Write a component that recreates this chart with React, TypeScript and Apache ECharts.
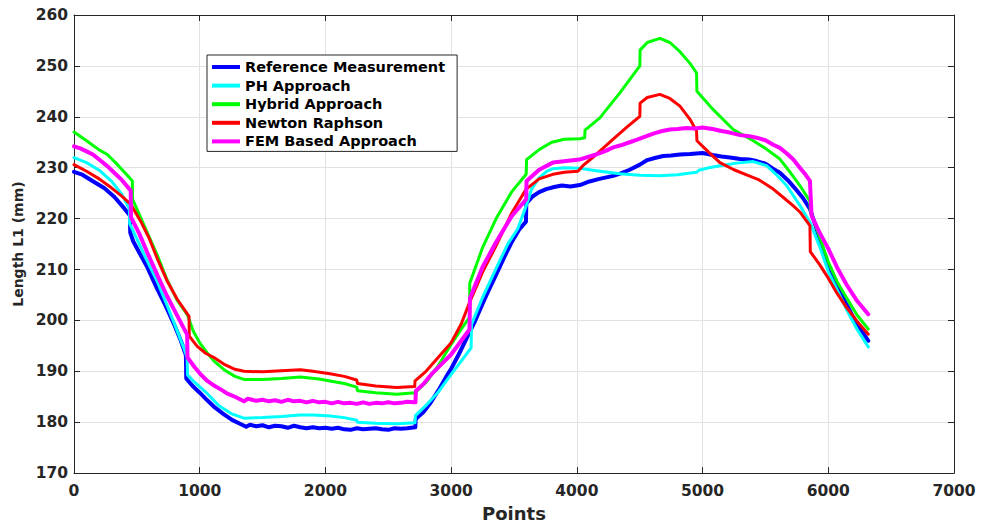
import React, { useEffect, useRef } from "react";
import * as echarts from "echarts";

const seriesNames = [
  "Reference Measurement",
  "PH Approach",
  "Hybrid Approach",
  "Newton Raphson",
  "FEM Based Approach",
];

const xTicks = [0, 1000, 2000, 3000, 4000, 5000, 6000, 7000];
const yTicks = [170, 180, 190, 200, 210, 220, 230, 240, 250, 260];

const referenceData: number[][] = [
  [0, 229.2], [60, 228.7], [160, 227.2], [240, 226.0], [320, 224.3], [400, 222.0], [445, 220.6], [447, 217.3],
  [470, 215.6], [520, 213.3], [580, 210.6], [660, 206.3], [730, 202.8], [800, 199.0], [850, 196.0], [890, 193.2],
  [893, 188.6], [940, 187.2], [1000, 185.8], [1060, 184.3], [1120, 182.9], [1190, 181.6], [1260, 180.4], [1320, 179.7],
  [1370, 179.1], [1400, 179.5], [1450, 179.2], [1500, 179.4], [1550, 179.0], [1600, 179.3], [1650, 179.2], [1700, 178.9],
  [1750, 179.3], [1800, 179.0], [1850, 178.8], [1900, 179.0], [1950, 178.8], [2000, 178.9], [2050, 178.7], [2100, 178.9],
  [2150, 178.6], [2200, 178.5], [2250, 178.8], [2300, 178.6], [2350, 178.7], [2400, 178.8], [2450, 178.6], [2500, 178.5],
  [2550, 178.8], [2600, 178.7], [2650, 178.8], [2715, 179.0], [2718, 180.6], [2780, 182.0], [2830, 183.6], [2900, 186.3],
  [2960, 188.9], [3000, 190.5], [3060, 193.3], [3120, 196.3], [3185, 199.6], [3250, 203.3], [3300, 206.0], [3358, 209.0],
  [3420, 212.3], [3480, 215.3], [3540, 217.8], [3595, 219.4], [3598, 223.0], [3650, 224.4], [3700, 225.2], [3756, 225.8],
  [3820, 226.2], [3880, 226.5], [3950, 226.3], [4024, 226.6], [4100, 227.3], [4180, 227.8], [4289, 228.4], [4350, 228.9],
  [4420, 229.6], [4501, 230.6], [4560, 231.5], [4620, 231.9], [4687, 232.3], [4750, 232.4], [4820, 232.6], [4900, 232.7],
  [5000, 232.9], [5080, 232.5], [5150, 232.2], [5217, 232.0], [5300, 231.7], [5370, 231.6], [5430, 231.3], [5500, 230.8],
  [5560, 229.8], [5615, 229.0], [5680, 227.5], [5740, 225.8], [5800, 224.0], [5854, 221.9], [5900, 218.5], [5950, 214.5],
  [6000, 210.2], [6050, 207.5], [6100, 205.2], [6146, 203.1], [6200, 200.6], [6260, 198.2], [6318, 196.0],
];

const phData: number[][] = [
  [0, 232.0], [100, 231.0], [200, 229.5], [300, 227.3], [380, 224.8], [440, 221.9], [443, 219.0], [500, 216.0],
  [580, 211.8], [663, 207.6], [740, 203.0], [820, 198.0], [870, 194.8], [900, 192.7], [903, 189.3], [960, 187.8],
  [1061, 185.6], [1150, 183.3], [1250, 181.7], [1352, 180.8], [1500, 180.9], [1650, 181.1], [1800, 181.4], [1900, 181.4],
  [2036, 181.2], [2150, 180.9], [2249, 180.4], [2255, 180.0], [2400, 179.8], [2567, 179.7], [2713, 179.9], [2716, 181.3],
  [2800, 183.3], [2900, 186.0], [3000, 189.4], [3080, 192.0], [3159, 194.6], [3162, 199.2], [3250, 204.5], [3358, 210.2],
  [3450, 215.0], [3530, 218.0], [3597, 222.5], [3640, 225.8], [3700, 228.0], [3760, 229.3], [3809, 229.8], [3900, 230.0],
  [4020, 229.9], [4154, 229.4], [4342, 228.8], [4500, 228.5], [4660, 228.4], [4800, 228.6], [4952, 229.1], [4970, 229.5],
  [5050, 230.0], [5138, 230.4], [5270, 230.9], [5403, 231.2], [5509, 230.4], [5580, 228.8], [5668, 226.5], [5774, 222.6],
  [5854, 219.3], [5930, 214.6], [6000, 209.6], [6080, 205.5], [6146, 202.1], [6230, 198.2], [6318, 194.8],
];

const hybridData: number[][] = [
  [0, 237.0], [100, 235.3], [200, 233.5], [265, 232.6], [350, 230.5], [420, 228.6], [464, 227.4], [466, 223.8],
  [520, 220.8], [580, 217.4], [663, 212.8], [740, 208.0], [820, 204.0], [902, 201.1], [950, 197.8], [1000, 195.6],
  [1060, 193.6], [1114, 192.0], [1200, 190.2], [1280, 189.0], [1352, 188.4], [1500, 188.4], [1650, 188.6], [1800, 188.9],
  [1950, 188.5], [2036, 188.1], [2150, 187.6], [2249, 186.9], [2255, 186.2], [2400, 185.8], [2567, 185.5], [2713, 185.8],
  [2800, 187.8], [2900, 191.2], [3000, 195.3], [3080, 198.3], [3146, 200.6], [3148, 207.3], [3250, 214.3], [3358, 220.0],
  [3480, 225.2], [3597, 228.7], [3600, 231.6], [3703, 233.6], [3800, 235.0], [3900, 235.6], [4024, 235.7], [4062, 235.9],
  [4065, 237.4], [4183, 239.8], [4342, 244.7], [4501, 250.0], [4503, 253.1], [4560, 254.6], [4660, 255.4], [4740, 254.6],
  [4820, 252.8], [4900, 250.5], [4952, 248.6], [4955, 245.0], [5085, 241.4], [5244, 237.5], [5403, 235.3], [5500, 233.8],
  [5615, 231.7], [5700, 229.0], [5774, 226.5], [5854, 223.4], [5857, 221.6], [5930, 216.5], [6000, 211.5], [6070, 207.6],
  [6146, 204.4], [6230, 201.0], [6318, 198.3],
];

const newtonData: number[][] = [
  [0, 230.6], [100, 229.3], [200, 227.8], [300, 226.0], [380, 224.4], [451, 222.8], [530, 219.5], [600, 216.0],
  [663, 212.1], [740, 207.8], [820, 204.2], [915, 200.8], [917, 196.9], [980, 194.9], [1050, 193.5], [1114, 192.7],
  [1200, 191.3], [1280, 190.4], [1352, 190.0], [1500, 189.9], [1650, 190.1], [1800, 190.3], [1900, 190.0], [2036, 189.5],
  [2150, 189.0], [2249, 188.3], [2255, 187.6], [2400, 187.1], [2567, 186.8], [2710, 187.0], [2713, 188.1], [2800, 190.0],
  [2900, 192.8], [3000, 195.6], [3080, 199.3], [3146, 203.5], [3250, 209.5], [3358, 214.7], [3480, 221.0], [3597, 225.8],
  [3700, 227.8], [3809, 228.7], [3900, 229.1], [4008, 229.3], [4048, 230.4], [4150, 232.5], [4289, 235.6], [4400, 238.0],
  [4501, 240.1], [4503, 242.7], [4560, 243.8], [4660, 244.4], [4740, 243.6], [4820, 242.1], [4900, 239.5], [4952, 237.2],
  [4955, 235.3], [5050, 233.0], [5138, 231.0], [5250, 229.6], [5350, 228.6], [5450, 227.6], [5562, 225.8], [5650, 224.0],
  [5722, 222.5], [5774, 221.3], [5854, 218.6], [5857, 213.5], [5930, 211.0], [6000, 208.3], [6070, 205.3], [6146, 202.5],
  [6230, 199.8], [6318, 197.3],
];

const femData: number[][] = [
  [0, 234.2], [50, 233.8], [100, 233.2], [150, 232.6], [200, 231.6], [265, 230.3], [320, 229.0], [380, 227.6],
  [451, 225.5], [453, 220.3], [520, 217.0], [580, 213.5], [663, 208.9], [740, 204.8], [820, 201.0], [900, 197.2],
  [903, 192.7], [960, 190.8], [1000, 189.6], [1061, 188.1], [1120, 187.1], [1170, 186.4], [1220, 185.6], [1280, 185.0],
  [1352, 184.1], [1380, 184.6], [1400, 184.5], [1450, 184.2], [1500, 184.4], [1550, 184.1], [1600, 184.3], [1650, 184.0],
  [1700, 184.4], [1750, 184.1], [1800, 184.2], [1850, 183.9], [1900, 184.2], [1950, 183.9], [2000, 184.0], [2050, 183.7],
  [2100, 184.0], [2150, 183.7], [2200, 183.8], [2250, 183.6], [2300, 183.9], [2350, 183.6], [2400, 183.8], [2450, 183.7],
  [2500, 183.9], [2550, 183.7], [2600, 183.8], [2650, 184.0], [2700, 183.9], [2716, 183.9], [2720, 186.2], [2780, 187.5],
  [2850, 189.6], [2920, 191.3], [3000, 193.3], [3080, 196.0], [3146, 198.2], [3150, 204.4], [3250, 210.5], [3358, 215.4],
  [3480, 220.4], [3597, 223.8], [3600, 227.4], [3700, 229.6], [3809, 231.0], [3880, 231.2], [3950, 231.4], [4020, 231.6],
  [4100, 232.2], [4154, 232.6], [4220, 233.2], [4289, 234.0], [4350, 234.4], [4420, 235.0], [4480, 235.5], [4554, 236.2],
  [4620, 236.8], [4680, 237.2], [4740, 237.5], [4800, 237.6], [4870, 237.8], [4940, 237.7], [5000, 237.9], [5080, 237.6],
  [5150, 237.2], [5217, 236.9], [5300, 236.4], [5370, 236.2], [5430, 235.9], [5500, 235.4], [5562, 234.5], [5615, 233.9],
  [5670, 232.8], [5722, 231.6], [5774, 230.0], [5820, 228.6], [5854, 227.4], [5867, 220.6], [5930, 217.3], [6000, 214.1],
  [6070, 210.4], [6146, 207.0], [6230, 203.8], [6318, 201.2],
];

const seriesData = [referenceData, phData, hybridData, newtonData, femData];
const seriesColors = ["#0000ff", "#00ffff", "#00ff00", "#ff0000", "#ff00ff"];
const seriesWidths = [4, 3, 3, 3, 4];

const FONT = "DejaVu Sans";
const AXIS_COLOR = "#262626";

export default function App() {
  const ref = useRef<HTMLDivElement>(null);

  useEffect(() => {
    document.body.style.margin = "0";
    document.body.style.overflow = "hidden";
    if (!ref.current) return;
    const chart = echarts.init(ref.current, undefined, { renderer: "svg" });
    const xMin = xTicks[0];
    const xMax = xTicks[xTicks.length - 1];
    const yMin = yTicks[0];
    const yMax = yTicks[yTicks.length - 1];
    const axisCommon = {
      type: "value" as const,
      axisLine: { show: true, onZero: false, lineStyle: { color: AXIS_COLOR, width: 1 } },
      axisTick: { show: true, inside: true, length: 6, lineStyle: { color: AXIS_COLOR } },
    };
    const plainNumber = (v: number) => String(v);
    chart.setOption({
      animation: false,
      backgroundColor: "#ffffff",
      grid: { left: 74, right: 27, top: 15, bottom: 50, containLabel: false },
      legend: {
        orient: "vertical",
        left: 207,
        top: 55,
        icon: "rect",
        itemWidth: 28,
        itemHeight: 4,
        itemGap: 3.6,
        padding: [4.5, 12, 2.5, 5],
        borderColor: AXIS_COLOR,
        borderWidth: 1,
        backgroundColor: "#ffffff",
        data: seriesNames,
        textStyle: {
          fontFamily: FONT,
          fontWeight: "bold",
          fontSize: 14.5,
          lineHeight: 14,
          color: "#000000",
        },
      },
      xAxis: [
        {
          ...axisCommon,
          min: xMin,
          max: xMax,
          interval: 1000,
          position: "bottom",
          splitLine: { show: true, lineStyle: { color: "#e2e2e2", width: 1 } },
          axisLabel: {
            fontFamily: FONT,
            fontWeight: "bold",
            fontSize: 15.5,
            color: AXIS_COLOR,
            margin: 10,
            formatter: plainNumber,
          },
          name: "Points",
          nameLocation: "middle",
          nameGap: 28,
          nameTextStyle: { fontFamily: FONT, fontWeight: "bold", fontSize: 18, color: AXIS_COLOR },
        },
        {
          ...axisCommon,
          min: xMin,
          max: xMax,
          interval: 1000,
          position: "top",
          splitLine: { show: false },
          axisLabel: { show: false },
        },
      ],
      yAxis: [
        {
          ...axisCommon,
          min: yMin,
          max: yMax,
          interval: 10,
          position: "left",
          splitLine: { show: true, lineStyle: { color: "#e2e2e2", width: 1 } },
          axisLabel: {
            fontFamily: FONT,
            fontWeight: "bold",
            fontSize: 15.5,
            color: AXIS_COLOR,
            margin: 6,
            formatter: plainNumber,
          },
          name: "Length L1 (mm)",
          nameLocation: "middle",
          nameGap: 46,
          nameTextStyle: { fontFamily: FONT, fontWeight: "bold", fontSize: 14, color: AXIS_COLOR },
        },
        {
          ...axisCommon,
          min: yMin,
          max: yMax,
          interval: 10,
          position: "right",
          splitLine: { show: false },
          axisLabel: { show: false },
        },
      ],
      series: seriesNames.map((name, i) => ({
        name,
        type: "line",
        xAxisIndex: 0,
        yAxisIndex: 0,
        data: seriesData[i],
        symbol: "none",
        showSymbol: false,
        color: seriesColors[i],
        lineStyle: { color: seriesColors[i], width: seriesWidths[i], join: "round", cap: "round" },
        z: 2 + i,
      })),
    });
    return () => chart.dispose();
  }, []);

  return <div ref={ref} style={{ width: 981, height: 527, display: "block" }} />;
}
